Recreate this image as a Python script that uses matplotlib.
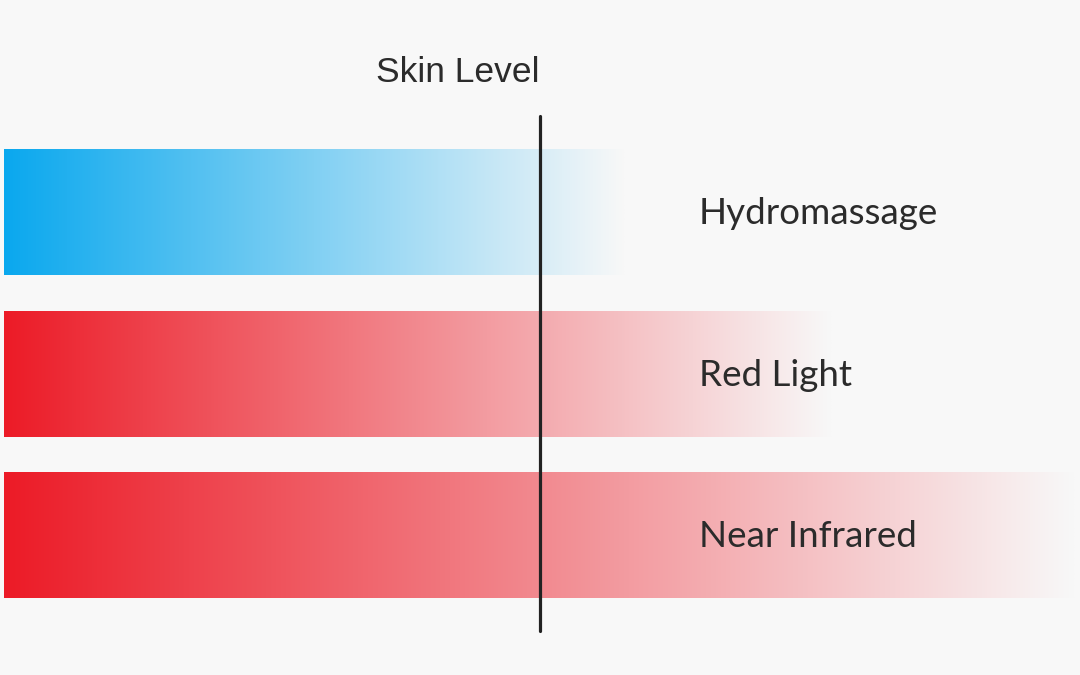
import numpy as np
import matplotlib.pyplot as plt
from matplotlib.colors import to_rgb

# penetration depth of each treatment (same units as skin_level)
treatments = ['Hydromassage', 'Red Light', 'Near Infrared']
depths = [625, 832, 1075]
colors = ['#0aa8ee', '#ec1b27']
bar_colors = [colors[0], colors[1], colors[1]]
skin_level = 540

bg = '#f8f8f8'
fig = plt.figure(figsize=(10.8, 6.75), dpi=100, facecolor=bg)
ax = fig.add_axes([0, 0, 1, 1])
ax.set_facecolor(bg)
ax.set_xlim(0, 1080)
ax.set_ylim(675, 0)
ax.axis('off')

centers = [212, 374, 535]
half_h = 63
x0 = 4
bg_rgb = np.array(to_rgb(bg))

for name, depth, col, yc in zip(treatments, depths, bar_colors, centers):
    t = np.linspace(0, 1, 400)
    c = np.array(to_rgb(col))
    rgb = c[None, :] * (1 - t[:, None]) + bg_rgb[None, :] * t[:, None]
    img = rgb[None, :, :]
    ax.imshow(img, extent=[x0, depth, yc + half_h, yc - half_h],
              aspect='auto', interpolation='bilinear', zorder=1)
    ax.text(699, yc + 12, name, fontsize=26.5, family='Lato',
            color='#2b2b2b', va='baseline', ha='left', zorder=3)

ax.plot([skin_level, skin_level], [116, 631], color='#222222', lw=2.3,
        solid_capstyle='round', zorder=2)
ax.text(skin_level - 82, 82, 'Skin Level', fontsize=25.5, family='Liberation Sans',
        color='#2b2b2b', va='baseline', ha='center')

ax.set_xlim(0, 1080)
ax.set_ylim(675, 0)
fig.savefig('out.png', dpi=100, facecolor=bg)
